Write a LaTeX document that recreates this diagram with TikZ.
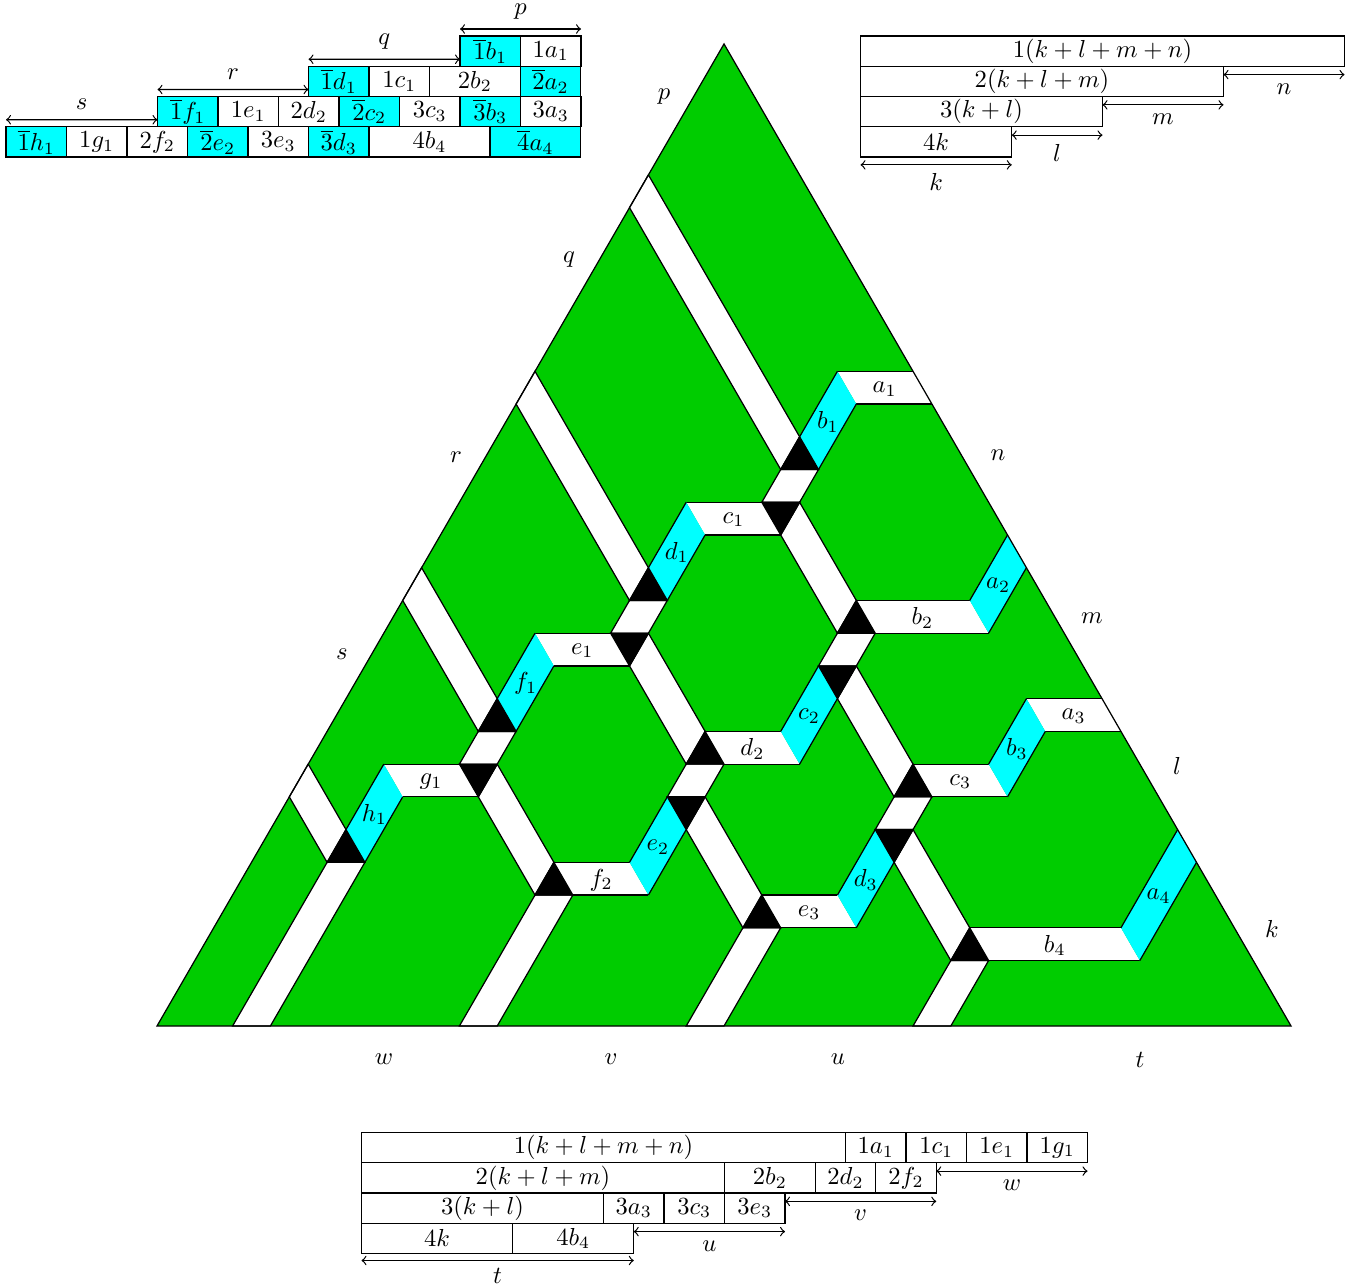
\documentclass[tikz,border=0pt]{standalone}
\usetikzlibrary{positioning}
\definecolor{regiongreen}{rgb}{0,0.8,0}
\definecolor{stripcyan}{rgb}{0,1,1}

\begin{document}
\begin{tikzpicture}[
    x=0.4066pt, y=-0.4066pt,
    line width=0.5pt,
    cell/.style={rectangle, draw=black, minimum width=#1*12.3pt, minimum height=12.3pt,
                 inner sep=0pt, outer sep=0pt},
    cyancell/.style={cell=#1, fill=stripcyan},
    dimline/.style={<->},
    piece/.style={draw=black, fill=white},
    dark/.style={draw=black, fill=black}
]
\useasboundingbox (0,0) rectangle (1351,1285);

% the triangle, on a lattice of unit triangles
\begin{scope}[shift={(157,1026)}, x={(15.37pt,0pt)}, y={(7.685pt,13.31pt)}]
\fill[regiongreen] (0,0) -- (30,0) -- (0,30) -- cycle;
\foreach \i/\j/\k in {2/0/5, 8/0/4, 14/0/3, 20/0/2, 4/8/9, 6/12/13, 8/16/17, 10/7/8, 12/11/12, 16/6/7}
    \draw[piece] (\i,\j) -- (\i+1,\j) -- (\i+1,\k) -- (\i,\k) -- cycle;
\foreach \i/\j/\n in {0/7/2, 0/13/4, 0/19/6, 0/25/8, 5/7/3, 7/11/3, 9/15/3, 11/6/3, 13/10/3, 17/5/3}
    \draw[piece] (\i,\j) -- (\i+\n,\j-\n) -- (\i+\n,\j-\n+1) -- (\i,\j+1) -- cycle;
% horizontal bands
\foreach \i/\j/\n/\s/\m in {2/7/2/g/1, 4/11/2/e/1, 6/15/2/c/1, 8/19/2/a/1, 8/4/2/f/2, 10/8/2/d/2,
                            12/12/3/b/2, 14/3/2/e/3, 16/7/2/c/3, 18/9/2/a/3, 20/2/4/b/4} {
    \fill[white] (\i,\j+1) -- (\i+\n,\j+1) -- (\i+\n+1,\j) -- (\i+1,\j) -- cycle;
    \draw (\i,\j+1) -- (\i+\n,\j+1) (\i+1,\j) -- (\i+\n+1,\j);
    \node[yshift=-0.5pt] (strip\s\m) at (\i+\n/2+0.5,\j+0.5) {$\s_\m$};
}
% cyan bands
\foreach \i/\j/\n/\s/\m in {2/5/2/h/1, 4/9/2/f/1, 6/13/2/d/1, 8/17/2/b/1, 10/4/2/e/2, 12/8/2/c/2,
                            15/12/2/a/2, 16/3/2/d/3, 18/7/2/b/3, 24/2/3/a/4} {
    \fill[stripcyan] (\i,\j+1) -- (\i+1,\j) -- (\i+1,\j+\n) -- (\i,\j+\n+1) -- cycle;
    \draw (\i,\j+1) -- (\i,\j+\n+1) (\i+1,\j) -- (\i+1,\j+\n);
    \node[yshift=-0.5pt] (strip\s\m) at (\i+0.5,\j+\n/2+0.5) {$\s_\m$};
}
\foreach \i/\j in {2/5, 4/9, 6/13, 8/17, 8/4, 10/8, 12/12, 14/3, 16/7, 20/2}
    \draw[dark] (\i,\j) -- (\i+1,\j) -- (\i,\j+1) -- cycle;
\foreach \i/\j in {4/7, 6/11, 8/15, 10/6, 12/10, 16/5}
    \draw[dark] (\i,\j+1) -- (\i+1,\j+1) -- (\i+1,\j) -- cycle;
\draw (0,0) -- (30,0) -- (0,30) -- cycle;
\end{scope}

% side letters
\foreach \s/\x/\y in {p/664/97, q/569/260, r/456/457, s/342/654, n/998/455, m/1092/618, l/1177/766,
                      k/1272/929, w/384/1059, v/611/1059, u/838/1059, t/1140/1060}
    \node (side\s) at (\x,\y) {$\s$};

% upper left table
\node[cyancell=2, anchor=north west] (lb1) at (460,36) {$\overline{1}b_1$};
\node[cell=2, right=0pt of lb1] (la1) {$1a_1$};
\node[cyancell=2, anchor=north west] (ld1) at (308.5,66.25) {$\overline{1}d_1$};
\node[cell=2, right=0pt of ld1] (lc1) {$1c_1$};
\node[cell=3, right=0pt of lc1] (lb2) {$2b_2$};
\node[cyancell=2, right=0pt of lb2] (la2) {$\overline{2}a_2$};
\node[cyancell=2, anchor=north west] (lf1) at (157.5,96.5) {$\overline{1}f_1$};
\node[cell=2, right=0pt of lf1] (le1) {$1e_1$};
\node[cell=2, right=0pt of le1] (ld2) {$2d_2$};
\node[cyancell=2, right=0pt of ld2] (lc2) {$\overline{2}c_2$};
\node[cell=2, right=0pt of lc2] (lc3) {$3c_3$};
\node[cyancell=2, right=0pt of lc3] (lb3) {$\overline{3}b_3$};
\node[cell=2, right=0pt of lb3] (la3) {$3a_3$};
\node[cyancell=2, anchor=north west] (lh1) at (6,126.75) {$\overline{1}h_1$};
\node[cell=2, right=0pt of lh1] (lg1) {$1g_1$};
\node[cell=2, right=0pt of lg1] (lf2) {$2f_2$};
\node[cyancell=2, right=0pt of lf2] (le2) {$\overline{2}e_2$};
\node[cell=2, right=0pt of le2] (le3) {$3e_3$};
\node[cyancell=2, right=0pt of le3] (ld3) {$\overline{3}d_3$};
\node[cell=4, right=0pt of ld3] (lb4) {$4b_4$};
\node[cyancell=3, right=0pt of lb4] (la4) {$\overline{4}a_4$};

\draw[dimline] ([yshift=2.85pt]lb1.north west) -- ([yshift=2.85pt]la1.north east) node[midway, above=3.5pt, inner sep=0pt] (lp) {$p$};
\draw[dimline] ([yshift=2.85pt]ld1.north west) -- ([yshift=2.85pt]lb1.south west) node[midway, above=0.5pt] (lq) {$q$};
\draw[dimline] ([yshift=2.85pt]lf1.north west) -- ([yshift=2.85pt]ld1.south west) node[midway, above=0.5pt] (lr) {$r$};
\draw[dimline] ([yshift=2.85pt]lh1.north west) -- ([yshift=2.85pt]lf1.south west) node[midway, above=0.5pt] (ls) {$s$};

% upper right table
\node[cell=16, anchor=north west] (rn) at (860.5,36) {$1(k+l+m+n)$};
\node[cell=12, anchor=north west] (rm) at (rn.south west) {$2(k+l+m)$};
\node[cell=8, anchor=north west] (rl) at (rm.south west) {$3(k+l)$};
\node[cell=5, anchor=north west] (rk) at (rl.south west) {$4k$};

\draw[dimline] ([yshift=-3.4pt]rm.north east) -- ([yshift=-3.4pt]rn.south east) node[midway, below=0pt] (ln) {$n$};
\draw[dimline] ([yshift=-3.4pt]rl.north east) -- ([yshift=-3.4pt]rm.south east) node[midway, below=0pt] (lm) {$m$};
\draw[dimline] ([yshift=-3.4pt]rk.north east) -- ([yshift=-3.4pt]rl.south east) node[midway, below=0pt] (ll) {$l$};
\draw[dimline] ([yshift=-3.2pt]rk.south west) -- ([yshift=-3.2pt]rk.south east) node[midway, below=0pt] (lk) {$k$};

% lower table
\node[cell=16, anchor=north west] (bn) at (361.5,1132.5) {$1(k+l+m+n)$};
\node[cell=2, right=0pt of bn] (ba1) {$1a_1$};
\node[cell=2, right=0pt of ba1] (bc1) {$1c_1$};
\node[cell=2, right=0pt of bc1] (be1) {$1e_1$};
\node[cell=2, right=0pt of be1] (bg1) {$1g_1$};
\node[cell=12, anchor=north west] (bm) at (bn.south west) {$2(k+l+m)$};
\node[cell=3, right=0pt of bm] (bb2) {$2b_2$};
\node[cell=2, right=0pt of bb2] (bd2) {$2d_2$};
\node[cell=2, right=0pt of bd2] (bf2) {$2f_2$};
\node[cell=8, anchor=north west] (bl) at (bm.south west) {$3(k+l)$};
\node[cell=2, right=0pt of bl] (ba3) {$3a_3$};
\node[cell=2, right=0pt of ba3] (bc3) {$3c_3$};
\node[cell=2, right=0pt of bc3] (be3) {$3e_3$};
\node[cell=5, anchor=north west] (bk) at (bl.south west) {$4k$};
\node[cell=4, right=0pt of bk] (bb4) {$4b_4$};

\draw[dimline] ([yshift=-3.4pt]bf2.north east) -- ([yshift=-3.4pt]bg1.south east) node[midway, below=0pt] (lw) {$w$};
\draw[dimline] ([yshift=-3.4pt]be3.north east) -- ([yshift=-3.4pt]bf2.south east) node[midway, below=0pt] (lv) {$v$};
\draw[dimline] ([yshift=-3.4pt]bb4.north east) -- ([yshift=-3.4pt]be3.south east) node[midway, below=0pt] (lu) {$u$};
\draw[dimline] ([yshift=-2.85pt]bk.south west) -- ([yshift=-2.85pt]bb4.south east) node[midway, below=-0.2pt] (lt) {$t$};
\end{tikzpicture}
\end{document}
